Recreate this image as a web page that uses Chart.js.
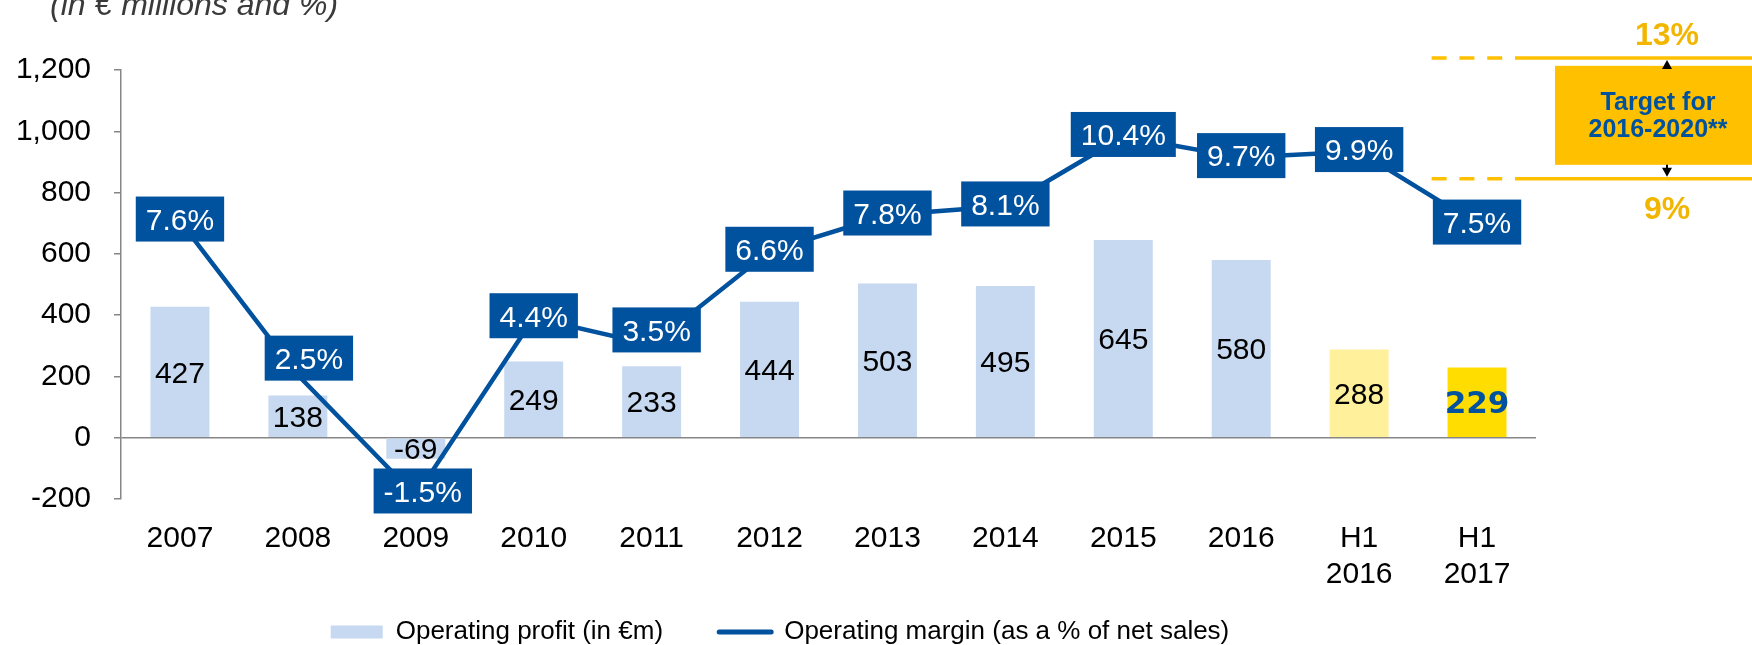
<!DOCTYPE html>
<html>
<head>
<meta charset="utf-8">
<script src="https://cdn.jsdelivr.net/npm/chart.js@4.4.1/dist/chart.umd.min.js"></script>
<style>
  html, body { margin: 0; padding: 0; background: #ffffff; }
  canvas { display: block; }
</style>
</head>
<body>
<canvas id="chart" width="1752" height="645"></canvas>
<script>
// ---- data ----
const categories = ['2007', '2008', '2009', '2010', '2011', '2012', '2013', '2014', '2015', '2016', ['H1', '2016'], ['H1', '2017']];
const operatingProfit = [427, 138, -69, 249, 233, 444, 503, 495, 645, 580, 288, 229];
const operatingMargin = [7.6, 2.5, -1.5, 4.4, 3.5, 6.6, 7.8, 8.1, 10.4, 9.7, 9.9, 7.5];
const profitAxis = { min: -200, max: 1200, step: 200 };
const marginAxis = { min: -1.6, max: 12.6 };
const targetLow = 9;
const targetHigh = 13;
const targetText = ['Target for', '2016-2020**'];
const subtitle = '(in € millions and %)';
const legendText = ['Operating profit (in €m)', 'Operating margin (as a % of net sales)'];

// ---- palette ----
const BLUE = '#00519E';
const BAR_BLUE = '#C6D9F1';
const BAR_H1_PREV = '#FFF09B';
const BAR_H1_CUR = '#FFDD00';
const GOLD = '#FFC000';
const GOLD_TEXT = '#F2B600';
const AXIS_GREY = '#868686';
const FONT = "'Liberation Sans', Arial, sans-serif";

Chart.defaults.font.family = FONT;
Chart.defaults.color = '#000000';

function barColour(ctx) {
  const last = operatingProfit.length - 1;
  if (ctx.dataIndex === last) return BAR_H1_CUR;
  if (ctx.dataIndex === last - 1) return BAR_H1_PREV;
  return BAR_BLUE;
}

// italic unit line above the value axis
const unitCaption = {
  id: 'unitCaption',
  afterDraw(chart, args, opts) {
    const ctx = chart.ctx;
    ctx.save();
    ctx.font = `italic ${opts.size}px ${FONT}`;
    ctx.fillStyle = opts.color;
    ctx.textAlign = 'left';
    ctx.textBaseline = 'alphabetic';
    ctx.fillText(opts.text, chart.chartArea.left - 71, 15);
    ctx.restore();
  }
};

// moves the legend row sideways after the layout pass
const legendShift = {
  id: 'legendShift',
  afterLayout(chart, args, opts) {
    const lg = chart.legend;
    if (!lg) return;
    lg.left += opts.dx;
    lg.right += opts.dx;
  }
};

// value written in the middle of every bar
const barValueLabels = {
  id: 'barValueLabels',
  afterDatasetDraw(chart, args, opts) {
    if (args.meta.type !== 'bar') return;
    const ctx = chart.ctx;
    const values = chart.data.datasets[args.index].data;
    ctx.save();
    ctx.textAlign = 'center';
    ctx.textBaseline = 'alphabetic';
    args.meta.data.forEach((bar, i) => {
      const strong = i === values.length - 1;
      const size = strong ? opts.strongSize : opts.size;
      ctx.font = strong ? `bold ${size}px ${opts.strongFamily}` : `${size}px ${FONT}`;
      ctx.fillStyle = strong ? BLUE : '#000000';
      const mid = (bar.y + bar.base) / 2;
      ctx.fillText(String(values[i]), bar.x, mid + 0.36 * size);
    });
    ctx.restore();
  }
};

// white-on-blue boxes carrying the margin of each point
const marginBoxes = {
  id: 'marginBoxes',
  afterDatasetsDraw(chart, args, opts) {
    const idx = chart.data.datasets.findIndex(d => d.type === 'line');
    const meta = chart.getDatasetMeta(idx);
    const values = chart.data.datasets[idx].data;
    const ctx = chart.ctx;
    ctx.save();
    ctx.font = `${opts.size}px ${FONT}`;
    ctx.textAlign = 'center';
    ctx.textBaseline = 'alphabetic';
    meta.data.forEach((pt, i) => {
      const txt = values[i].toFixed(1) + '%';
      const w = ctx.measureText(txt).width + 2 * opts.padX;
      const shift = opts.nudge[i] || [0, 0];
      const cx = pt.x + shift[0];
      const cy = pt.y + opts.lift + shift[1];
      ctx.fillStyle = BLUE;
      ctx.fillRect(cx - w / 2, cy - opts.height / 2, w, opts.height);
      ctx.fillStyle = '#ffffff';
      ctx.fillText(txt, cx, cy + 0.36 * opts.size);
    });
    ctx.restore();
  }
};

// 9%-13% target corridor on the right-hand side
const targetBand = {
  id: 'targetBand',
  afterDraw(chart) {
    const { ctx, chartArea } = chart;
    const y2 = chart.scales.y2;
    const yHi = y2.getPixelForValue(targetHigh);
    const yLo = y2.getPixelForValue(targetLow);
    const xSolid = chartArea.right - 6;
    const xDash = xSolid - 98.4;
    const xEnd = chart.width;

    ctx.save();
    ctx.strokeStyle = GOLD;
    ctx.lineWidth = 3.5;
    [yHi, yLo].forEach(y => {
      ctx.setLineDash([15, 12.8]);
      ctx.beginPath(); ctx.moveTo(xDash, y); ctx.lineTo(xSolid, y); ctx.stroke();
      ctx.setLineDash([]);
      ctx.beginPath(); ctx.moveTo(xSolid, y); ctx.lineTo(xEnd, y); ctx.stroke();
    });

    // box with the caption
    const boxLeft = chartArea.right + 19;
    const boxH = 99;
    const midY = (yHi + yLo) / 2 - 3;
    const boxTop = midY - boxH / 2;
    ctx.fillStyle = GOLD;
    ctx.fillRect(boxLeft, boxTop, xEnd - boxLeft, boxH);

    ctx.fillStyle = BLUE;
    ctx.font = `bold 25px ${FONT}`;
    ctx.textAlign = 'center';
    ctx.textBaseline = 'alphabetic';
    const tx = boxLeft + 103;
    ctx.fillText(targetText[0], tx, midY - 14 + 9);
    ctx.fillText(targetText[1], tx, midY + 13 + 9);

    // arrows from the box to both limits
    const ax = boxLeft + 112;
    ctx.strokeStyle = '#000000';
    ctx.fillStyle = '#000000';
    ctx.lineWidth = 2;
    const arrow = (from, to) => {
      const dir = Math.sign(to - from);
      ctx.beginPath(); ctx.moveTo(ax, from); ctx.lineTo(ax, to - dir * 6); ctx.stroke();
      ctx.beginPath();
      ctx.moveTo(ax, to);
      ctx.lineTo(ax - 5, to - dir * 9);
      ctx.lineTo(ax + 5, to - dir * 9);
      ctx.closePath(); ctx.fill();
    };
    arrow(boxTop, yHi + 2);
    arrow(boxTop + boxH, yLo - 2);

    // limit values
    ctx.fillStyle = GOLD_TEXT;
    ctx.font = `bold 32px ${FONT}`;
    ctx.fillText(targetHigh + '%', ax, yHi - 24 + 11.5);
    ctx.fillText(targetLow + '%', ax, yLo + 29 + 11.5);
    ctx.restore();
  }
};

new Chart(document.getElementById('chart'), {
  type: 'bar',
  data: {
    labels: categories,
    datasets: [
      {
        type: 'line',
        label: legendText[1],
        data: operatingMargin,
        yAxisID: 'y2',
        order: 0,
        borderColor: BLUE,
        backgroundColor: BLUE,
        borderWidth: 4.5,
        pointRadius: 0,
        tension: 0,
        fill: false
      },
      {
        type: 'bar',
        label: legendText[0],
        data: operatingProfit,
        yAxisID: 'y',
        order: 1,
        backgroundColor: barColour,
        borderWidth: 0,
        barPercentage: 0.5,
        categoryPercentage: 1.0
      }
    ]
  },
  options: {
    responsive: false,
    devicePixelRatio: 1,
    animation: false,
    events: [],
    layout: { padding: { left: 0, right: 216, top: 70, bottom: -10 } },
    scales: {
      x: {
        offset: true,
        grid: { display: false },
        border: { display: false },
        ticks: { font: { size: 30 }, color: '#000000', padding: 14, maxRotation: 0, autoSkip: false },
        afterFit(scale) { scale.height = 100; }
      },
      y: {
        position: 'left',
        min: profitAxis.min,
        max: profitAxis.max,
        ticks: {
          stepSize: profitAxis.step,
          font: { size: 30 },
          color: '#000000',
          padding: 23,
          callback: v => v.toLocaleString('en-US')
        },
        grid: {
          color: c => (c.tick && c.tick.value === 0 ? AXIS_GREY : 'rgba(0,0,0,0)'),
          lineWidth: 1.5,
          tickColor: AXIS_GREY,
          tickLength: 7,
          tickWidth: 1.5
        },
        border: { display: true, color: AXIS_GREY, width: 1.5 },
        afterFit(scale) { scale.width = 121; }
      },
      y2: {
        display: false,
        position: 'right',
        min: marginAxis.min,
        max: marginAxis.max,
        grid: { display: false }
      }
    },
    plugins: {
      title: { display: false },
      legend: {
        display: true,
        position: 'bottom',
        labels: {
          usePointStyle: true,
          pointStyleWidth: 52,
          boxHeight: 13,
          padding: 20,
          font: { size: 26 },
          color: '#000000',
          generateLabels: () => [
            { text: legendText[0] + '     ', fillStyle: BAR_BLUE, strokeStyle: BAR_BLUE, lineWidth: 0, pointStyle: 'rect', datasetIndex: 1, hidden: false },
            { text: legendText[1], fillStyle: BLUE, strokeStyle: BLUE, lineWidth: 5, lineCap: 'round', pointStyle: 'line', datasetIndex: 0, hidden: false }
          ]
        }
      },
      legendShift: { dx: 12 },
      tooltip: { enabled: false },
      unitCaption: { text: subtitle, size: 32, color: '#3a3a3a' },
      barValueLabels: { size: 30, strongSize: 31, strongFamily: "'DejaVu Sans', sans-serif" },
      marginBoxes: { size: 30, padX: 10, height: 45, lift: -2, nudge: { 1: [11, -15], 2: [7, -3], 4: [5, -13] } }
    }
  },
  plugins: [unitCaption, legendShift, barValueLabels, marginBoxes, targetBand]
});
</script>
</body>
</html>
